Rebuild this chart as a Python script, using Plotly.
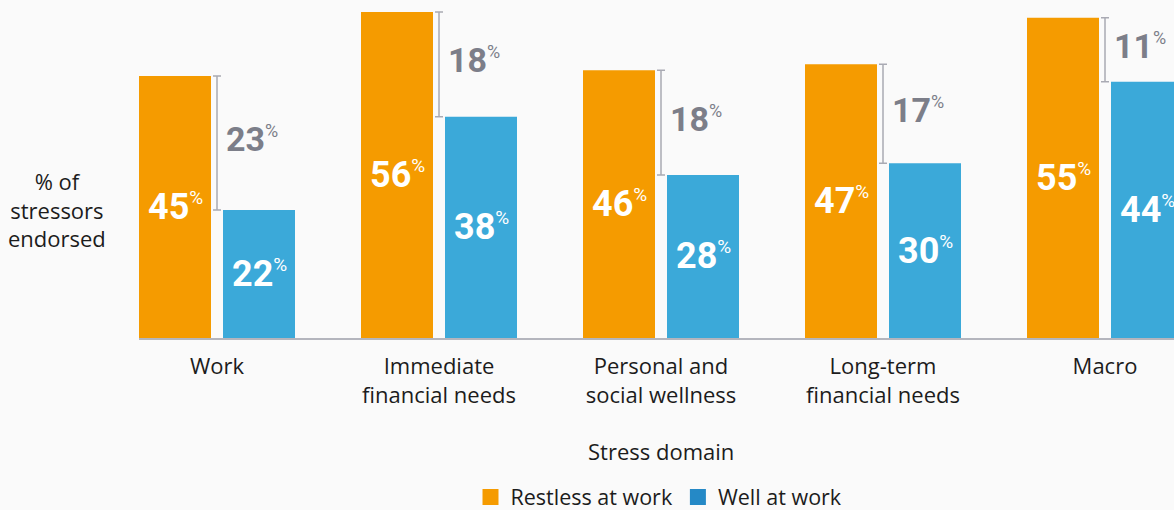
import plotly.graph_objects as go

# ---- data -------------------------------------------------------------
categories = [
    "Work",
    "Immediate<br>financial needs",
    "Personal and<br>social wellness",
    "Long-term<br>financial needs",
    "Macro",
]
restless = [45, 56, 46, 47, 55]
well = [22, 38, 28, 30, 44]
series_names = ["Restless at work", "Well at work"]
gaps = [r - w for r, w in zip(restless, well)]

# ---- styling ----------------------------------------------------------
ORANGE = "#F59B00"
BLUE = "#3BA9D9"
BLUE_KEY = "#2589C6"
GRAY_LABEL = "#7C7E89"
BRACKET = "#A9AAB3"
AXIS = "#B4B5BD"
BG = "#FAFAFA"
INK = "#1C1C1C"
TEXT_FONT = "Open Sans"
NUM_FONT = "Roboto"
TEXT_SIZE = 22

W, H = 1174, 510
M_LEFT, M_BOTTOM = 139, 172
PLOT_W, PLOT_H = W - M_LEFT, H - M_BOTTOM
CAT_PX = 222          # distance between category centres
FIRST_CAT_PX = 78     # first category centre, measured from plot left edge
BAR_PX, INNER_GAP_PX = 72, 12
PX_PER_PCT = 5.822

bar_w = BAR_PX / CAT_PX
half_gap = INNER_GAP_PX / 2 / CAT_PX
bar_shift_px = INNER_GAP_PX / 2 + BAR_PX / 2   # bar centre from group centre


def pct(v, size):
    return (f"{v}<sup><span style='font-size:{size}px;font-weight:400'>%"
            f"</span></sup>")


fig = go.Figure()

for vals, name, color, offset in [
    (restless, series_names[0], ORANGE, -half_gap - bar_w),
    (well, series_names[1], BLUE, half_gap),
]:
    fig.add_trace(go.Bar(
        x=categories, y=vals, name=name,
        width=bar_w, offset=offset,
        marker=dict(color=color, line=dict(width=0)),
        showlegend=False, hoverinfo="skip",
    ))

# difference brackets between the two bars of each group
fig.add_trace(go.Scatter(
    x=categories, y=well, mode="markers",
    marker=dict(size=1, opacity=0),
    error_y=dict(type="data", symmetric=False, array=gaps,
                 arrayminus=[0] * len(gaps), color=BRACKET,
                 thickness=1.5, width=4),
    showlegend=False, hoverinfo="skip",
))

# legend keys
fig.add_trace(go.Scatter(
    x=[None], y=[None], mode="markers", name=series_names[0],
    marker=dict(symbol="square", size=16, color=ORANGE),
))
fig.add_trace(go.Scatter(
    x=[None], y=[None], mode="markers", name=series_names[1],
    marker=dict(symbol="square", size=16, color=BLUE_KEY),
))

annotations = []
# value labels centred inside each bar
for vals, side in [(restless, -1), (well, 1)]:
    for cat, v in zip(categories, vals):
        annotations.append(dict(
            x=cat, y=v / 2, xref="x", yref="y",
            text=pct(v, 19), showarrow=False,
            xanchor="center", yanchor="middle",
            xshift=side * bar_shift_px, yshift=0,
            font=dict(family=NUM_FONT, size=36, color="white", weight="bold"),
        ))

# gap labels next to the brackets
for cat, r, w, d in zip(categories, restless, well, gaps):
    annotations.append(dict(
        x=cat, y=(r + w) / 2, xref="x", yref="y",
        text=pct(d, 18), showarrow=False,
        xanchor="left", yanchor="middle", xshift=7, yshift=4,
        font=dict(family=NUM_FONT, size=34, color=GRAY_LABEL, weight="bold"),
    ))

annotations.append(dict(
    text="% of<br>stressors<br>endorsed", showarrow=False,
    xref="paper", yref="paper", x=0, y=(PLOT_H - 211) / PLOT_H,
    xanchor="center", yanchor="middle", xshift=-(M_LEFT - 57), yshift=2,
    font=dict(family=TEXT_FONT, size=22, color=INK),
))
annotations.append(dict(
    text="Stress domain", showarrow=False,
    xref="x", yref="paper", x=categories[2], y=(PLOT_H - 452) / PLOT_H,
    xanchor="center", yanchor="middle", yshift=1,
    font=dict(family=TEXT_FONT, size=TEXT_SIZE, color=INK),
))

x0 = -FIRST_CAT_PX / CAT_PX
fig.update_layout(
    width=W, height=H,
    margin=dict(l=M_LEFT, r=0, t=0, b=M_BOTTOM, pad=0, autoexpand=False),
    paper_bgcolor=BG, plot_bgcolor=BG,
    font=dict(family=TEXT_FONT, size=TEXT_SIZE, color=INK),
    xaxis=dict(
        type="category", range=[x0, x0 + PLOT_W / CAT_PX],
        showgrid=False, zeroline=False, automargin=False,
        showline=True, linecolor=AXIS, linewidth=2,
        ticks="", tickfont=dict(family=TEXT_FONT, size=TEXT_SIZE, color=INK),
        ticklabelstandoff=8,
    ),
    yaxis=dict(
        range=[0, PLOT_H / PX_PER_PCT], visible=False,
        showgrid=False, zeroline=False, automargin=False,
    ),
    legend=dict(
        orientation="h", x=(659 - M_LEFT) / PLOT_W, xanchor="center",
        y=(PLOT_H - 497) / PLOT_H, yanchor="middle",
        font=dict(family=TEXT_FONT, size=21.5, color=INK),
        bgcolor="rgba(0,0,0,0)", itemwidth=30,
    ),
    annotations=annotations,
)

fig.write_html("out.html")
